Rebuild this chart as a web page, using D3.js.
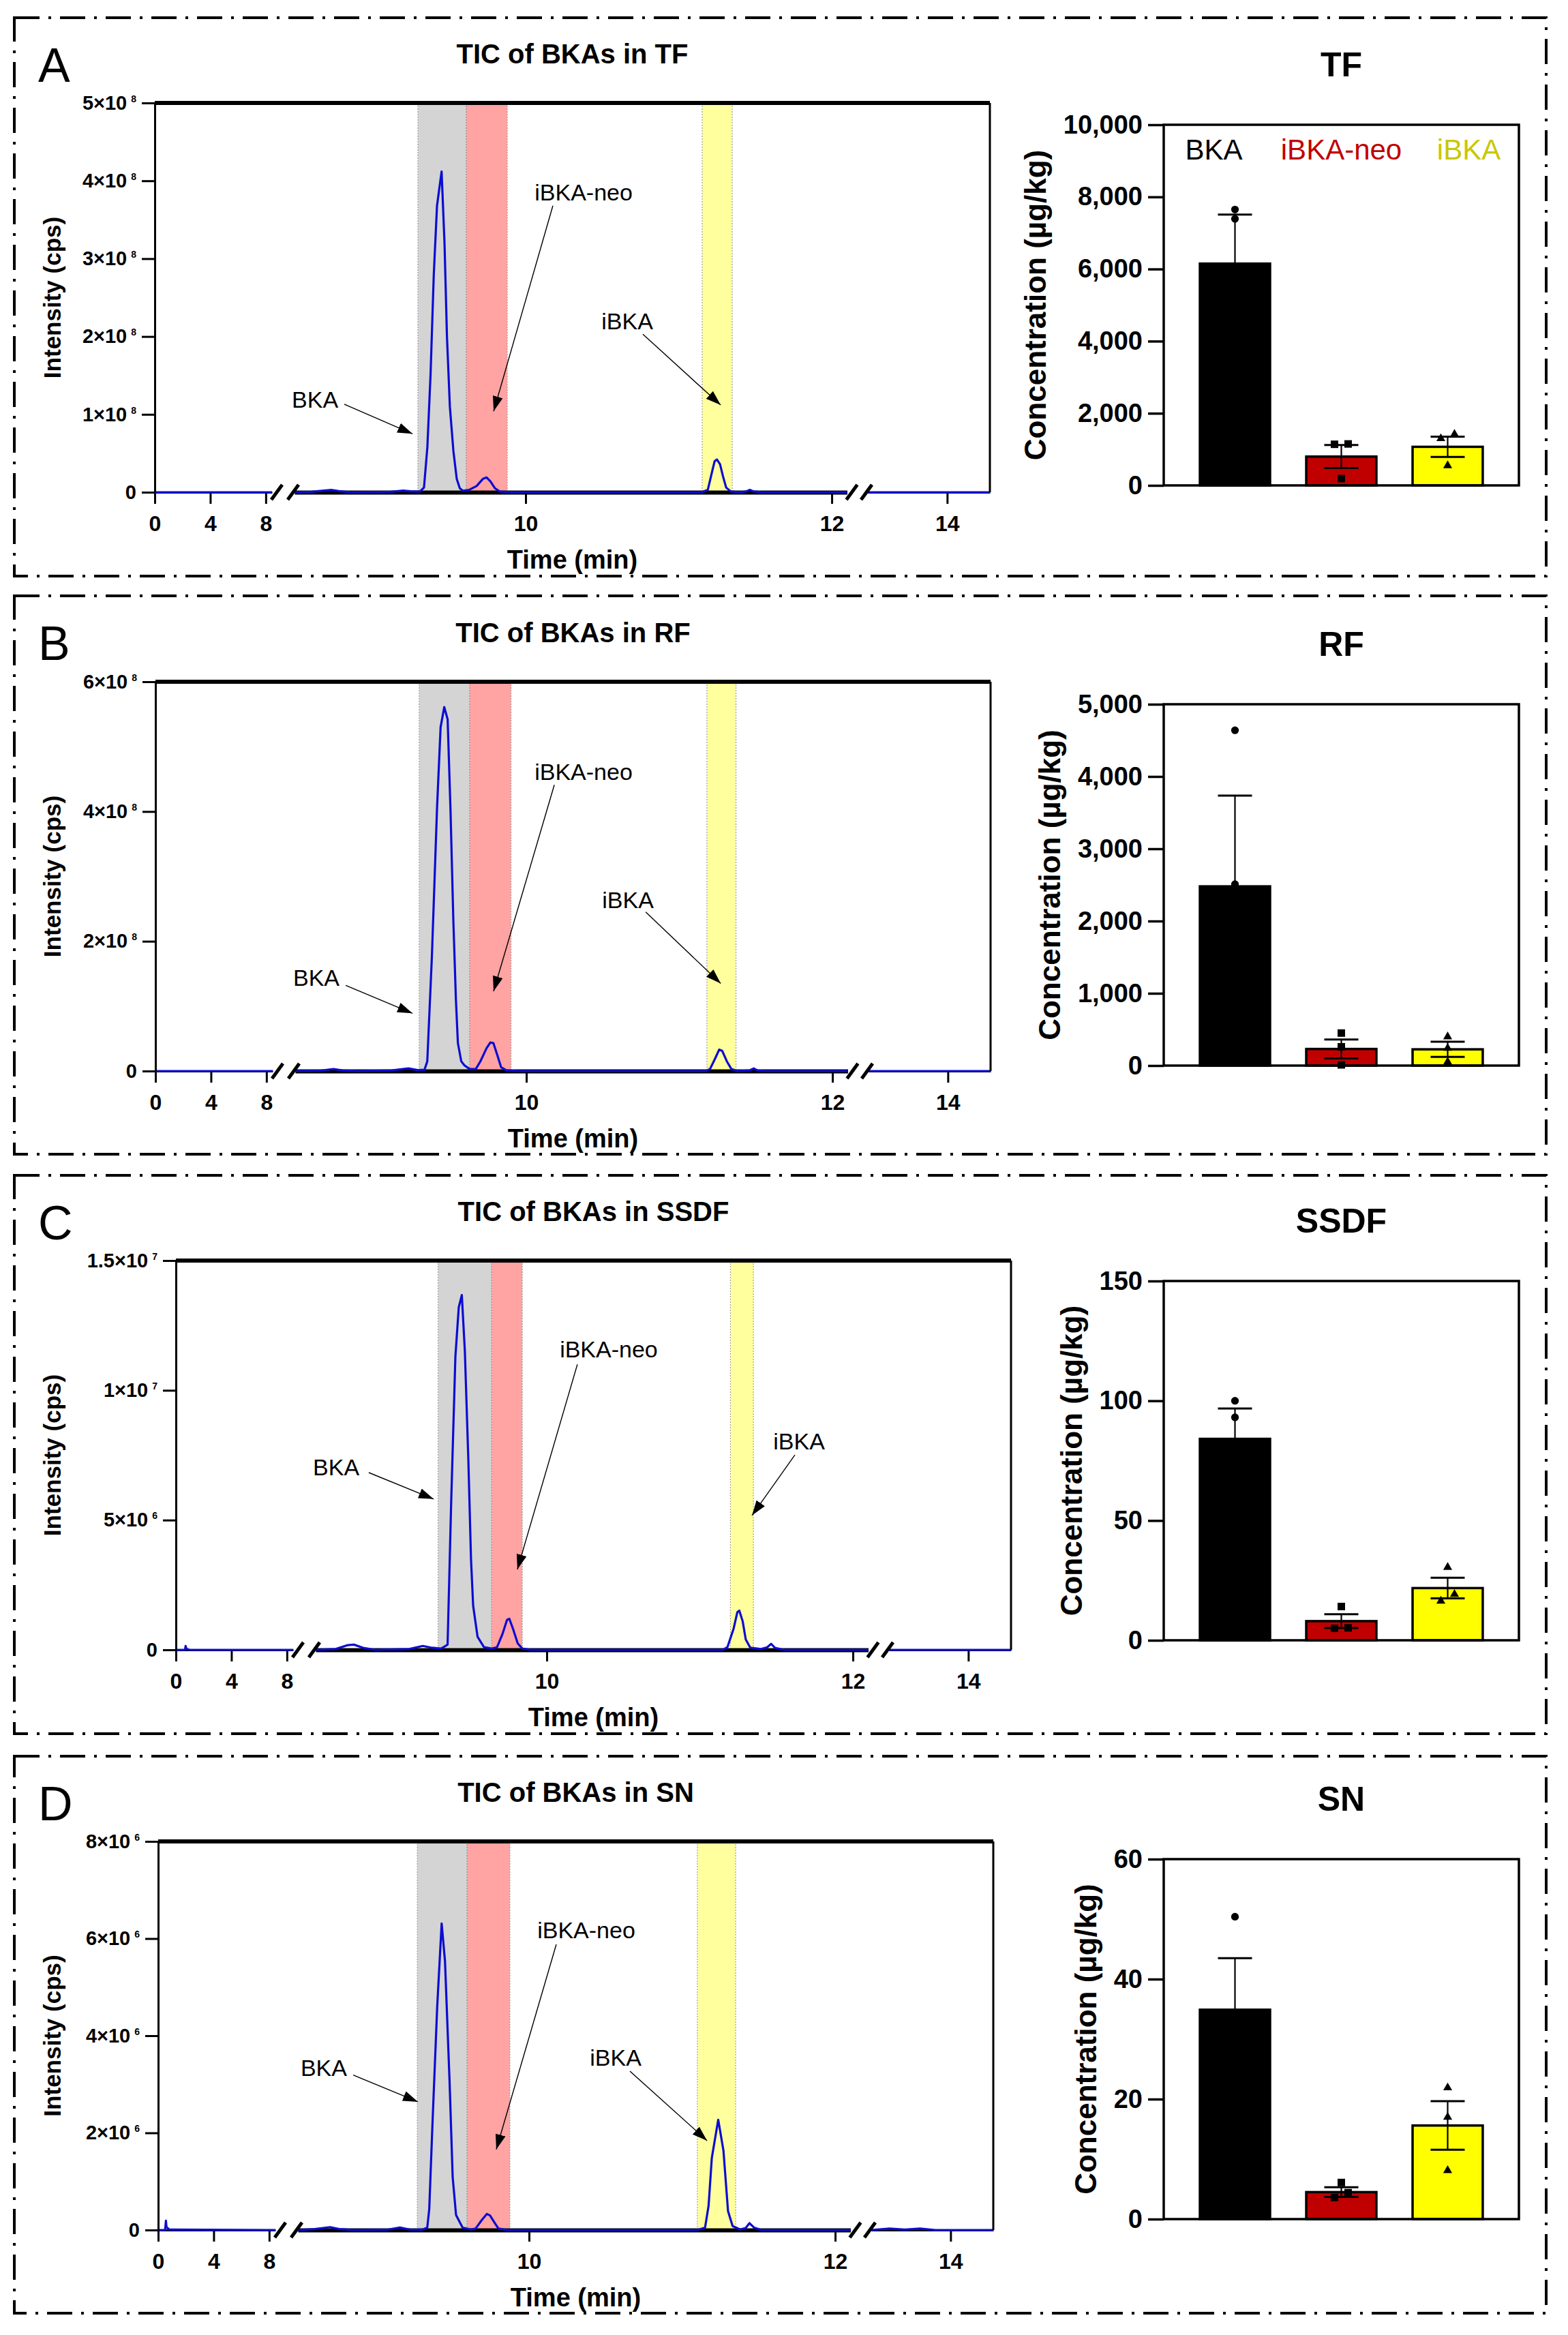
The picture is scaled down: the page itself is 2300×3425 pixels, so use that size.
<!DOCTYPE html>
<html>
<head>
<meta charset="utf-8">
<script src="https://cdn.jsdelivr.net/npm/d3@7"></script>
<style>
  body { margin: 0; background: #fff; }
  text { font-family: "Liberation Sans", Arial, sans-serif; }
</style>
</head>
<body>
<div id="chart"></div>
<script>
// ---------- values ----------
var panelLetters = ["A", "B", "C", "D"];
var sampleNames = ["TF", "RF", "SSDF", "SN"];
var analytes = ["BKA", "iBKA-neo", "iBKA"];

// broken time axis: three pieces
var timeSegments = [[0, 8.45], [8.49, 12.1], [13.48, 14.28]];
var timeTicks = [[0, 4, 8], [10, 12], [14]];

var intensityTicks = [
  [0, 1e8, 2e8, 3e8, 4e8, 5e8],
  [0, 2e8, 4e8, 6e8],
  [0, 5e6, 1e7, 1.5e7],
  [0, 2e6, 4e6, 6e6, 8e6]
];

// TIC traces [time (min), intensity (cps)]
var traceTF = [
  [0, 0], [8.45, 0],
  [8.49, 0], [8.6, 5e5], [8.68, 2e6], [8.73, 3e6], [8.78, 1.5e6], [8.85, 0],
  [9.12, 5e5], [9.2, 2e6], [9.26, 1e6], [9.31, 1e6], [9.336, 6e6], [9.358, 5.8e7],
  [9.379, 1.52e8], [9.4, 2.8e8], [9.421, 3.68e8], [9.451, 4.12e8], [9.47, 3.2e8],
  [9.486, 2.0e8], [9.505, 1.1e8], [9.528, 5.3e7], [9.55, 1.7e7], [9.57, 5e6],
  [9.59, 2e6], [9.63, 3e6], [9.68, 8e6], [9.72, 1.7e7], [9.745, 1.9e7], [9.77, 1.4e7],
  [9.8, 5e6], [9.83, 1e6], [9.9, 0], [11.15, 0], [11.19, 3e6], [11.22, 2.8e7],
  [11.235, 4.0e7], [11.25, 4.2e7], [11.27, 3.6e7], [11.29, 2.0e7], [11.31, 6e6],
  [11.34, 1e6], [11.4, 0], [11.44, 1e6], [11.465, 3e6], [11.49, 1e6], [11.55, 0], [12.1, 0],
  [13.48, 0], [14.28, 0]
];
var traceRF = [
  [0, 0], [8.45, 0],
  [8.49, 0], [8.65, 5e5], [8.74, 3e6], [8.8, 1e6], [8.9, 0], [9.12, 1e6], [9.23, 4e6],
  [9.29, 1.5e6], [9.335, 2e6], [9.353, 1.5e7], [9.383, 1.76e8], [9.417, 4.07e8],
  [9.44, 5.3e8], [9.464, 5.61e8], [9.486, 5.42e8], [9.505, 4.0e8], [9.523, 2.34e8],
  [9.54, 1.1e8], [9.553, 4.3e7], [9.575, 1.5e7], [9.595, 9e6], [9.63, 3e6], [9.67, 3e6],
  [9.7, 1.5e7], [9.74, 3.5e7], [9.765, 4.4e7], [9.785, 4.3e7], [9.81, 2.5e7],
  [9.835, 6e6], [9.87, 1e6], [9.95, 0], [11.17, 0], [11.2, 3e6], [11.235, 2.0e7],
  [11.26, 3.3e7], [11.28, 3.1e7], [11.31, 1.5e7], [11.34, 3e6], [11.38, 0],
  [11.46, 1e6], [11.486, 4e6], [11.51, 1e6], [11.56, 0], [12.1, 0],
  [13.48, 0], [14.28, 0]
];
var traceSSDF = [
  [0, 0], [0.66, 0], [0.7, 1.5e5], [0.76, 4e4], [1.0, 0], [8.45, 0],
  [8.49, 0], [8.62, 3e4], [8.7, 1.8e5], [8.74, 2.0e5], [8.8, 8e4], [8.88, 0],
  [9.1, 3e4], [9.19, 1.5e5], [9.25, 8e4], [9.31, 5e4], [9.352, 2e5], [9.376, 5.8e6],
  [9.403, 1.13e7], [9.425, 1.32e7], [9.445, 1.367e7], [9.465, 1.15e7], [9.488, 7.25e6],
  [9.505, 3.5e6], [9.519, 1.7e6], [9.548, 5e5], [9.59, 1e5], [9.64, 5e4], [9.675, 1e5],
  [9.71, 6e5], [9.74, 1.15e6], [9.755, 1.2e6], [9.78, 8e5], [9.81, 2.5e5], [9.84, 5e4],
  [9.9, 0], [11.15, 0], [11.18, 1e5], [11.22, 8e5], [11.245, 1.45e6], [11.258, 1.51e6],
  [11.28, 1.1e6], [11.3, 4e5], [11.33, 8e4], [11.4, 3e4], [11.44, 1e5], [11.466, 2.3e5],
  [11.49, 8e4], [11.55, 0], [12.1, 0],
  [13.48, 0], [14.28, 0]
];
var traceSN = [
  [0, 0], [0.5, 0], [0.56, 1.9e5], [0.6, 6e4], [0.8, 1e4], [8.45, 0],
  [8.49, 0], [8.6, 2e4], [8.7, 6e4], [8.76, 2e4], [8.85, 0], [9.08, 1e4], [9.156, 5e4],
  [9.22, 1e4], [9.3, 5e3], [9.335, 5e4], [9.348, 4.3e5], [9.37, 2.26e6], [9.4, 4.6e6],
  [9.429, 6.31e6], [9.451, 5.53e6], [9.481, 3.04e6], [9.501, 1.09e6], [9.523, 3.1e5],
  [9.566, 5e4], [9.62, 1e4], [9.651, 3e4], [9.69, 2e5], [9.724, 3.3e5], [9.745, 3.0e5],
  [9.775, 1.5e5], [9.8, 3e4], [9.86, 0], [11.1, 0], [11.15, 5e4], [11.173, 5e5],
  [11.194, 1.48e6], [11.236, 2.27e6], [11.27, 1.64e6], [11.3, 3.9e5], [11.33, 8e4],
  [11.38, 1e4], [11.415, 4e4], [11.44, 1.4e5], [11.47, 5e4], [11.52, 0], [12.1, 0],
  [13.48, 0], [13.6, 3e4], [13.7, 1e4], [13.8, 3e4], [13.9, 0], [14.28, 0]
];
var traces = [traceTF, traceRF, traceSSDF, traceSN];

// shaded retention windows [start, end] (min) for BKA, iBKA-neo, iBKA
var peakWindows = [
  [[9.296, 9.612], [9.612, 9.88], [11.154, 11.35]],
  [[9.30, 9.63], [9.63, 9.90], [11.18, 11.37]],
  [[9.29, 9.64], [9.64, 9.84], [11.20, 11.35]],
  [[9.27, 9.595], [9.595, 9.875], [11.10, 11.35]]
];

// concentrations (µg/kg)
var concTicks = [
  [0, 2000, 4000, 6000, 8000, 10000],
  [0, 1000, 2000, 3000, 4000, 5000],
  [0, 50, 100, 150],
  [0, 20, 40, 60]
];
var barMeans = [[6150, 800, 1070], [2480, 230, 225], [84.1, 8.0, 21.8], [34.9, 4.5, 15.6]];
var barSems = [[1360, 320, 280], [1255, 130, 105], [12.7, 2.9, 4.3], [8.6, 0.82, 4.05]];
var barPoints = [
  [[7650, 7390, 3410], [1150, 1140, 190], [1420, 1300, 550]],
  [[4640, 2510, 290], [450, 260, 10], [400, 240, 50]],
  [[100, 93.1, 59.2], [14.1, 5.2, 5.0], [30.5, 19.2, 16.4]],
  [[50.4, 33.6, 20.7], [6.1, 3.6, 4.4], [21.9, 17.0, 8.1]]
];

// ---------- layout ----------
var boxTop = [26, 874, 1724, 2576];
var boxBottom = [845, 1693, 2543, 3393];
var chromLeft = [227, 228, 258, 232];
var chromTop = [151, 1000, 1849, 2701];
var chromZero = [722, 1571, 2420, 3271];
var chromWidth = 1225;
var segRanges = [[0, 172], [205, 1015.5], [1046, 1225]];
var barLeft = 1707, barRight = 2228;
var barTop = [183, 1033, 1879, 2727];
var barZero = [712, 1563, 2406, 3255];

// annotation placement in data units [time, intensity]
var annoLabel = [
  [[8.624, 1.09e8], [10.379, 3.75e8], [10.664, 2.09e8]],
  [[8.628, 1.31e8], [10.374, 4.49e8], [10.664, 2.51e8]],
  [[8.624, 6.73e6], [10.405, 1.127e7], [11.648, 7.72e6]],
  [[8.659, 3.17e6], [10.374, 6.01e6], [10.566, 3.38e6]]
];
var annoFrom = [
  [[8.815, 1.13e8], [10.178, 3.68e8], [10.766, 2.03e8]],
  [[8.82, 1.32e8], [10.183, 4.41e8], [10.78, 2.45e8]],
  [[8.837, 6.83e6], [10.2, 1.1e7], [11.621, 7.51e6]],
  [[8.851, 3.19e6], [10.178, 5.88e6], [10.659, 3.27e6]]
];
var annoTip = [
  [[9.261, 7.5e7], [9.791, 1.04e8], [11.274, 1.12e8]],
  [[9.256, 8.9e7], [9.786, 1.23e8], [11.27, 1.35e8]],
  [[9.261, 5.81e6], [9.808, 3.1e6], [11.341, 5.18e6]],
  [[9.274, 2.64e6], [9.786, 1.66e6], [11.163, 1.84e6]]
];

var bandColors = ["#d4d4d4", "#ffa3a3", "#ffff9e"];
var barColors = ["#000000", "#c00000", "#ffff00"];
var legendColors = ["#000000", "#c00000", "#c8c800"];
var traceColor = "#0c0cd2";
var FONT = "Liberation Sans, Arial, sans-serif";

var svg = d3.select("#chart").append("svg")
    .attr("width", 2300)
    .attr("height", 3425)
    .style("background", "#fff");

svg.append("defs").append("marker")
    .attr("id", "arrowhead")
    .attr("viewBox", "0 0 22 15")
    .attr("refX", 22).attr("refY", 7.5)
    .attr("markerWidth", 22).attr("markerHeight", 15)
    .attr("markerUnits", "userSpaceOnUse")
    .attr("orient", "auto")
  .append("path")
    .attr("d", "M0,0L22,7.5L0,15Z")
    .attr("fill", "#000");

function supLabel(sel, v) {
    sel.text(null);
    if (v === 0) { sel.text("0"); return; }
    var e = Math.floor(Math.log10(v) + 1e-9);
    var m = +(v / Math.pow(10, e)).toFixed(2);
    sel.append("tspan").text(m + "\u00d710");
    sel.append("tspan").attr("dx", 6).attr("dy", -11).attr("font-size", 14).text(e);
}

function styleAxis(g, size, weight) {
    g.attr("font-family", FONT).attr("font-size", size).attr("font-weight", weight);
    g.selectAll("text").attr("fill", "#000");
}

for (let p = 0; p < 4; p++) {
    var L = chromLeft[p];
    var y0 = chromZero[p];
    var yTop = chromTop[p];
    var ymax = intensityTicks[p][intensityTicks[p].length - 1];

    // dash-dot panel frame
    svg.append("rect")
        .attr("x", 21).attr("y", boxTop[p])
        .attr("width", 2247).attr("height", boxBottom[p] - boxTop[p])
        .attr("fill", "none").attr("stroke", "#000").attr("stroke-width", 4)
        .attr("stroke-dasharray", "37 13 4 13");

    svg.append("text")
        .attr("x", 56).attr("y", boxTop[p] + 94)
        .attr("font-size", 70)
        .text(panelLetters[p]);

    // ---------- chromatogram ----------
    var chrom = svg.append("g");
    var y = d3.scaleLinear().domain([0, ymax]).range([y0, yTop]);
    var xs = timeSegments.map(function(dom, s) {
        return d3.scaleLinear().domain(dom).range([L + segRanges[s][0], L + segRanges[s][1]]);
    });
    var xMid = xs[1];

    peakWindows[p].forEach(function(w, i) {
        chrom.append("rect")
            .attr("x", xMid(w[0])).attr("width", xMid(w[1]) - xMid(w[0]))
            .attr("y", y(ymax)).attr("height", y(0) - y(ymax))
            .attr("fill", bandColors[i]);
    });
    peakWindows[p].forEach(function(w) {
        w.forEach(function(t) {
            chrom.append("line")
                .attr("x1", xMid(t)).attr("x2", xMid(t))
                .attr("y1", y(ymax)).attr("y2", y(0))
                .attr("stroke", "#a0a0a0").attr("stroke-width", 1.2)
                .attr("stroke-dasharray", "2 2");
        });
    });

    xs.forEach(function(sx, s) {
        var ax = chrom.append("g")
            .attr("transform", "translate(0," + y0 + ")")
            .call(d3.axisBottom(sx).tickValues(timeTicks[s]).tickSize(17)
                .tickPadding(17).tickSizeOuter(0).tickFormat(d3.format("d")));
        styleAxis(ax, 32, "bold");
        ax.select(".domain").attr("stroke-width", s === 1 ? 6 : 3);
        ax.selectAll(".tick line").attr("stroke-width", 3);
    });

    var line = d3.line();
    xs.forEach(function(sx, s) {
        var dom = sx.domain();
        var pts = traces[p].filter(function(d) { return d[0] >= dom[0] && d[0] <= dom[1]; });
        line.x(function(d) { return sx(d[0]); }).y(function(d) { return y(d[1]); });
        chrom.append("path")
            .datum(pts)
            .attr("d", line)
            .attr("fill", "none")
            .attr("stroke", traceColor)
            .attr("stroke-width", 3.2)
            .attr("stroke-linejoin", "round");
    });

    // axis breaks
    [segRanges[0][1] + 7, segRanges[1][0] - 2, segRanges[1][1] + 7, segRanges[2][0] - 2].forEach(function(bx) {
        chrom.append("line")
            .attr("x1", L + bx - 8).attr("y1", y0 + 11)
            .attr("x2", L + bx + 8).attr("y2", y0 - 11)
            .attr("stroke", "#000").attr("stroke-width", 5);
    });

    // frame
    chrom.append("line")
        .attr("x1", L).attr("x2", L + chromWidth)
        .attr("y1", y(ymax)).attr("y2", y(ymax))
        .attr("stroke", "#000").attr("stroke-width", 6);
    chrom.append("line")
        .attr("x1", L + chromWidth).attr("x2", L + chromWidth)
        .attr("y1", y(ymax)).attr("y2", y0)
        .attr("stroke", "#000").attr("stroke-width", 3);

    var ya = chrom.append("g")
        .attr("transform", "translate(" + L + ",0)")
        .call(d3.axisLeft(y).tickValues(intensityTicks[p]).tickSize(19)
            .tickPadding(8).tickSizeOuter(0).tickFormat(""));
    styleAxis(ya, 29, "bold");
    ya.select(".domain").attr("stroke-width", 3);
    ya.selectAll(".tick line").attr("stroke-width", 3);
    ya.selectAll(".tick text").each(function(d) { supLabel(d3.select(this), d); });

    chrom.append("text")
        .attr("transform", "translate(77," + ((yTop + y0) / 2) + ") rotate(-90)")
        .attr("text-anchor", "middle").attr("dy", "0.35em")
        .attr("font-size", 35).attr("font-weight", "bold")
        .text("Intensity (cps)");

    chrom.append("text")
        .attr("x", L + chromWidth / 2).attr("y", y0 + 112)
        .attr("text-anchor", "middle")
        .attr("font-size", 38).attr("font-weight", "bold")
        .text("Time (min)");

    chrom.append("text")
        .attr("x", L + chromWidth / 2).attr("y", yTop - 58)
        .attr("text-anchor", "middle")
        .attr("font-size", 40).attr("font-weight", "bold")
        .text("TIC of BKAs in " + sampleNames[p]);

    analytes.forEach(function(a, i) {
        chrom.append("line")
            .attr("x1", xMid(annoFrom[p][i][0])).attr("y1", y(annoFrom[p][i][1]))
            .attr("x2", xMid(annoTip[p][i][0])).attr("y2", y(annoTip[p][i][1]))
            .attr("stroke", "#000").attr("stroke-width", 1.4)
            .attr("marker-end", "url(#arrowhead)");
        chrom.append("text")
            .attr("x", xMid(annoLabel[p][i][0])).attr("y", y(annoLabel[p][i][1]))
            .attr("text-anchor", "middle")
            .attr("font-size", 34)
            .text(a);
    });

    // ---------- bar chart ----------
    var bars = svg.append("g");
    var cmax = concTicks[p][concTicks[p].length - 1];
    var cy = d3.scaleLinear().domain([0, cmax]).range([barZero[p], barTop[p]]);
    var bx = d3.scaleBand().domain(analytes).range([barLeft, barRight]).padding(0.34);

    bars.selectAll("rect.bar")
        .data(analytes)
        .enter().append("rect")
            .attr("class", "bar")
            .attr("x", function(d) { return bx(d); })
            .attr("width", bx.bandwidth())
            .attr("y", function(d, i) { return cy(barMeans[p][i]); })
            .attr("height", function(d, i) { return cy(0) - cy(barMeans[p][i]); })
            .attr("fill", function(d, i) { return barColors[i]; })
            .attr("stroke", "#000").attr("stroke-width", 3.5);

    var symbolTypes = [d3.symbolCircle, d3.symbolSquare, d3.symbolTriangle];
    var symbolSizes = [100, 121, 75];
    analytes.forEach(function(a, i) {
        var cx = bx(a) + bx.bandwidth() / 2;
        var m = barMeans[p][i], e = barSems[p][i];
        var capW = 25;
        bars.append("line")
            .attr("x1", cx).attr("x2", cx)
            .attr("y1", cy(m - e)).attr("y2", cy(m + e))
            .attr("stroke", "#000").attr("stroke-width", 2.2);
        [m - e, m + e].forEach(function(v) {
            bars.append("line")
                .attr("x1", cx - capW).attr("x2", cx + capW)
                .attr("y1", cy(v)).attr("y2", cy(v))
                .attr("stroke", "#000").attr("stroke-width", 3);
        });

        // spread replicates that overlap vertically
        var vals = barPoints[p][i].slice().sort(d3.ascending);
        var groups = [];
        vals.forEach(function(v) {
            var g = groups[groups.length - 1];
            if (g && Math.abs(cy(g[g.length - 1]) - cy(v)) < 13) g.push(v);
            else groups.push([v]);
        });
        groups.forEach(function(g) {
            g.forEach(function(v, k) {
                var off = (k - (g.length - 1) / 2) * 20;
                bars.append("path")
                    .attr("d", d3.symbol().type(symbolTypes[i]).size(symbolSizes[i])())
                    .attr("transform", "translate(" + (cx + off) + "," + cy(v) + ")")
                    .attr("fill", "#000");
            });
        });
    });

    bars.append("rect")
        .attr("x", barLeft).attr("y", barTop[p])
        .attr("width", barRight - barLeft).attr("height", barZero[p] - barTop[p])
        .attr("fill", "none").attr("stroke", "#000").attr("stroke-width", 3.5);

    var ca = bars.append("g")
        .attr("transform", "translate(" + barLeft + ",0)")
        .call(d3.axisLeft(cy).tickValues(concTicks[p]).tickSize(23)
            .tickPadding(8).tickSizeOuter(0).tickFormat(d3.format(",")));
    styleAxis(ca, 38, "bold");
    ca.select(".domain").remove();
    ca.selectAll(".tick line").attr("stroke-width", 3.5);
    var labelLeft = barLeft + ca.node().getBBox().x;

    bars.append("text")
        .attr("transform", "translate(" + (labelLeft - 41) + "," + ((barTop[p] + barZero[p]) / 2) + ") rotate(-90)")
        .attr("text-anchor", "middle").attr("dy", "0.35em")
        .attr("font-size", 44).attr("font-weight", "bold")
        .text("Concentration (\u00b5g/kg)");

    bars.append("text")
        .attr("x", (barLeft + barRight) / 2).attr("y", barTop[p] - 71)
        .attr("text-anchor", "middle")
        .attr("font-size", 50).attr("font-weight", "bold")
        .text(sampleNames[p]);

    if (p === 0) {
        analytes.forEach(function(a, i) {
            bars.append("text")
                .attr("x", (barLeft + barRight) / 2 + (i - 1) * 187)
                .attr("y", barTop[p] + 51)
                .attr("text-anchor", "middle")
                .attr("font-size", 42)
                .attr("fill", legendColors[i])
                .text(a);
        });
    }
}
</script>
</body>
</html>
